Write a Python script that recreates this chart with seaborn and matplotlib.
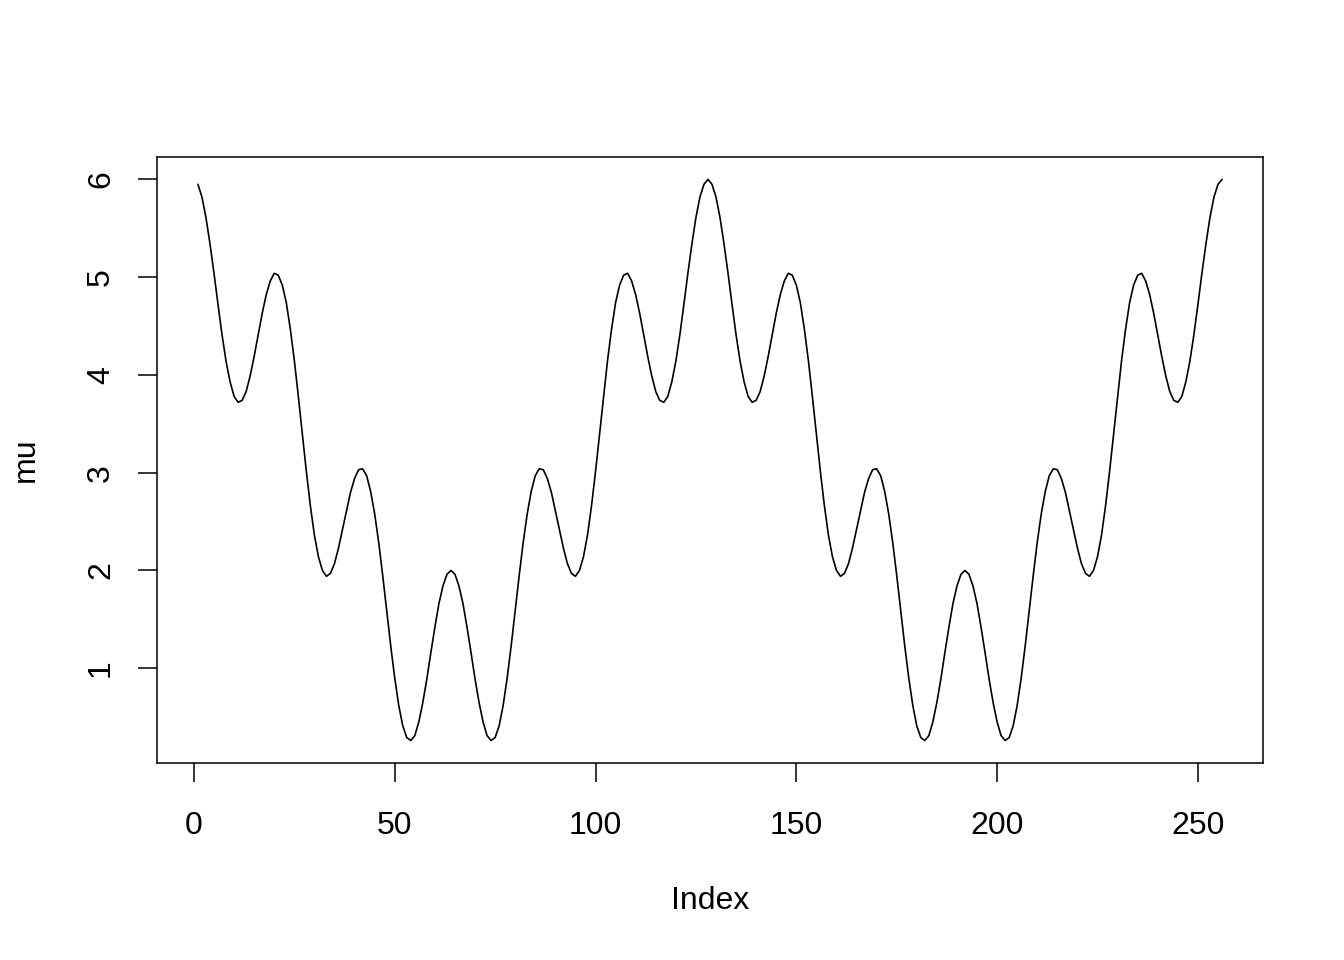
import matplotlib
matplotlib.use("Agg")
import matplotlib.pyplot as plt
import seaborn as sns
import pandas as pd

# values, one per index (1..256)
mu = [
    5.95, 5.82, 5.61, 5.34, 5.04, 4.72, 4.41, 4.14, 3.93, 3.78, 3.72, 3.74, 3.83, 3.99, 4.19, 4.41,
    4.63, 4.82, 4.96, 5.04, 5.02, 4.92, 4.74, 4.47, 4.15, 3.78, 3.39, 3.01, 2.66, 2.36, 2.14, 2.00,
    1.94, 1.97, 2.07, 2.23, 2.42, 2.61, 2.80, 2.94, 3.03, 3.04, 2.97, 2.81, 2.58, 2.29, 1.95, 1.59,
    1.23, 0.90, 0.62, 0.41, 0.29, 0.26, 0.31, 0.45, 0.65, 0.89, 1.16, 1.42, 1.66, 1.84, 1.96, 2.00,
    1.96, 1.84, 1.66, 1.42, 1.16, 0.89, 0.65, 0.45, 0.31, 0.26, 0.29, 0.41, 0.62, 0.90, 1.23, 1.59,
    1.95, 2.29, 2.58, 2.81, 2.97, 3.04, 3.03, 2.94, 2.80, 2.61, 2.42, 2.23, 2.07, 1.97, 1.94, 2.00,
    2.14, 2.36, 2.66, 3.01, 3.39, 3.78, 4.15, 4.47, 4.74, 4.92, 5.02, 5.04, 4.96, 4.82, 4.63, 4.41,
    4.19, 3.99, 3.83, 3.74, 3.72, 3.78, 3.93, 4.14, 4.41, 4.72, 5.04, 5.34, 5.61, 5.82, 5.95, 6.00,
    5.95, 5.82, 5.61, 5.34, 5.04, 4.72, 4.41, 4.14, 3.93, 3.78, 3.72, 3.74, 3.83, 3.99, 4.19, 4.41,
    4.63, 4.82, 4.96, 5.04, 5.02, 4.92, 4.74, 4.47, 4.15, 3.78, 3.39, 3.01, 2.66, 2.36, 2.14, 2.00,
    1.94, 1.97, 2.07, 2.23, 2.42, 2.61, 2.80, 2.94, 3.03, 3.04, 2.97, 2.81, 2.58, 2.29, 1.95, 1.59,
    1.23, 0.90, 0.62, 0.41, 0.29, 0.26, 0.31, 0.45, 0.65, 0.89, 1.16, 1.42, 1.66, 1.84, 1.96, 2.00,
    1.96, 1.84, 1.66, 1.42, 1.16, 0.89, 0.65, 0.45, 0.31, 0.26, 0.29, 0.41, 0.62, 0.90, 1.23, 1.59,
    1.95, 2.29, 2.58, 2.81, 2.97, 3.04, 3.03, 2.94, 2.80, 2.61, 2.42, 2.23, 2.07, 1.97, 1.94, 2.00,
    2.14, 2.36, 2.66, 3.01, 3.39, 3.78, 4.15, 4.47, 4.74, 4.92, 5.02, 5.04, 4.96, 4.82, 4.63, 4.41,
    4.19, 3.99, 3.83, 3.74, 3.72, 3.78, 3.93, 4.14, 4.41, 4.72, 5.04, 5.34, 5.61, 5.82, 5.95, 6.00,
]
x_ticks = [0, 50, 100, 150, 200, 250]
y_ticks = [1, 2, 3, 4, 5, 6]

df = pd.DataFrame({"Index": range(1, len(mu) + 1), "mu": mu})

sns.set_style("ticks")
plt.rcParams["font.family"] = ["Liberation Sans", "DejaVu Sans"]

fig = plt.figure(figsize=(13.44, 9.6), dpi=100)
ax = fig.add_axes([0.1168, 0.2052, 0.8229, 0.6313])

sns.lineplot(data=df, x="Index", y="mu", color="black", linewidth=1.2, ax=ax)

# R style 4% padding around the data
ax.set_xlim(-9.2, 266.2)
ax.set_ylim(0.03, 6.23)

ax.set_xticks(x_ticks)
ax.set_yticks(y_ticks)
ax.tick_params(axis="both", direction="out", length=14, width=1.1, color="black",
               labelsize=23, labelcolor="black")
ax.tick_params(axis="x", pad=20.5)
ax.tick_params(axis="y", pad=15.5)
for lab in ax.get_yticklabels():
    lab.set_rotation(90)
    lab.set_va("center")

for sp in ax.spines.values():
    sp.set_visible(True)
    sp.set_linewidth(1.1)
    sp.set_color("black")

ax.set_xlabel("Index", fontsize=23, va="center", color="black")
ax.set_ylabel("mu", fontsize=23, va="center", color="black")
ax.xaxis.set_label_coords(0.5, -0.228)
ax.yaxis.set_label_coords(-0.119, 0.5)

fig.savefig("out.png", dpi=100, facecolor="white")
